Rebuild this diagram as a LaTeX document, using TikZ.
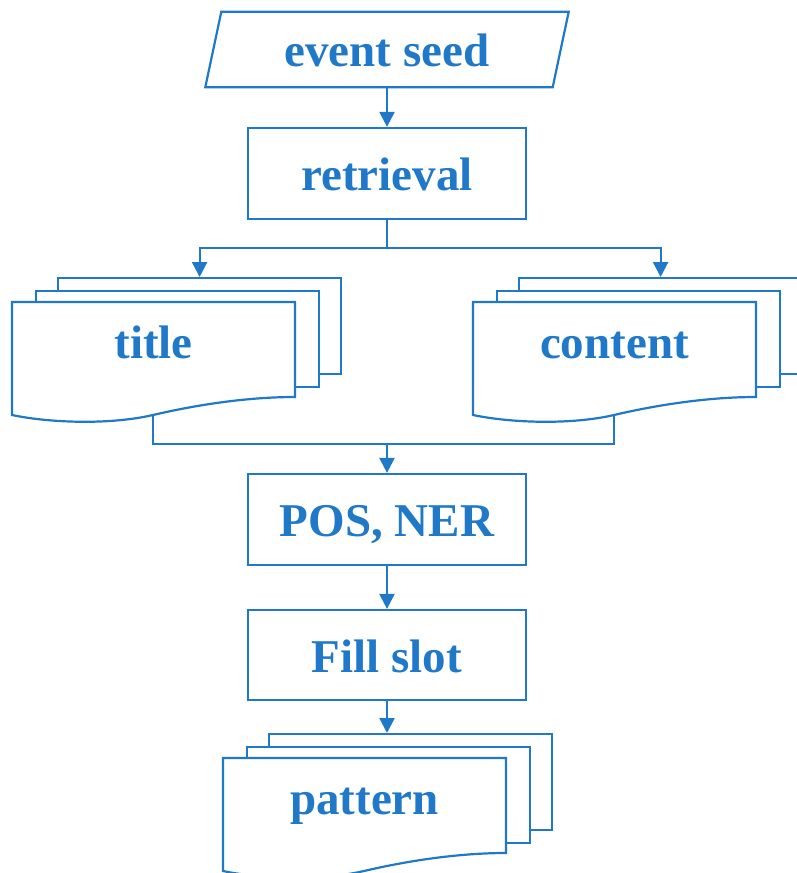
\documentclass[tikz,border=0pt]{standalone}
\usepackage{fontspec}
\setmainfont{Liberation Serif}
\usetikzlibrary{arrows.meta,calc}
\definecolor{fcblue}{HTML}{1F78C8}
\tikzset{
  ln/.style={draw=fcblue,line width=2.2pt},
  arr/.style={ln,-{Triangle[length=15pt,width=15pt]}},
  lbl/.style={text=fcblue,font=\fontsize{47}{50}\selectfont\bfseries,inner sep=0pt,text height=34pt,text depth=0pt},
  box/.style={draw=fcblue,line width=2.2pt,fill=white,minimum width=278pt,minimum height=91pt,inner sep=0pt},
  sheet/.style={draw=fcblue,line width=2.2pt,fill=white,minimum width=283pt,minimum height=96pt,inner sep=0pt,anchor=north west},
}
% name, x0, y0, text
\newcommand{\docstack}[4]{%
  \node[sheet] (#1back) at (#2+45,#3-25) {};
  \node[sheet] (#1mid) at (#2+23,#3-12) {};
  \path[ln,fill=white] (#2,#3) -- (#2+283,#3) -- (#2+283,#3+95)
     .. controls (#2+238,#3+95) and (#2+188,#3+102) .. (#2+141,#3+113)
     .. controls (#2+98,#3+123) and (#2+38,#3+121) .. (#2,#3+113) -- cycle;
  \coordinate (#1bot) at (#2+141,#3+113);
  \node[lbl,anchor=base,text height=,text depth=] (#1) at (#2+141.5,#3+56) {#4};
}
\begin{document}
\begin{tikzpicture}[x=1pt,y=-1pt]
\useasboundingbox (0,0) rectangle (797,873);
\clip (0,0) rectangle (797,873);
\fill[white] (0,0) rectangle (797,873);

% event seed
\node[lbl,minimum width=347pt,minimum height=75pt] (seed) at (387,49.5) {event seed};
\draw[ln] ([xshift=8pt]seed.north west) -- ([xshift=8pt]seed.north east)
  -- ([xshift=-8pt]seed.south east) -- ([xshift=-8pt]seed.south west) -- cycle;

% process boxes
\node[box,lbl] (retr) at (387,173.5) {retrieval};
\node[box,lbl] (pos) at (387,519.5) {POS, NER};
\node[box,lbl,minimum height=90pt] (slot) at (387,655) {Fill slot};

% document stacks
\docstack{title}{12}{302}{title}
\docstack{content}{473}{302}{content}
\docstack{pattern}{223}{758}{pattern}

% connectors
\draw[arr] (seed.south) -- (retr.north);
\coordinate (split) at (387,248);
\draw[ln] (retr.south) -- (split);
\draw[arr] (split) -| (titleback.north);
\draw[arr] (split) -| (contentback.north);
\coordinate (merge) at (387,444);
\draw[ln] (titlebot) |- (merge) -| (contentbot);
\draw[arr] (merge) -- (pos.north);
\draw[arr] (pos.south) -- (slot.north);
\draw[arr] (slot.south) -- (slot.south |- patternback.north);
\end{tikzpicture}
\end{document}
